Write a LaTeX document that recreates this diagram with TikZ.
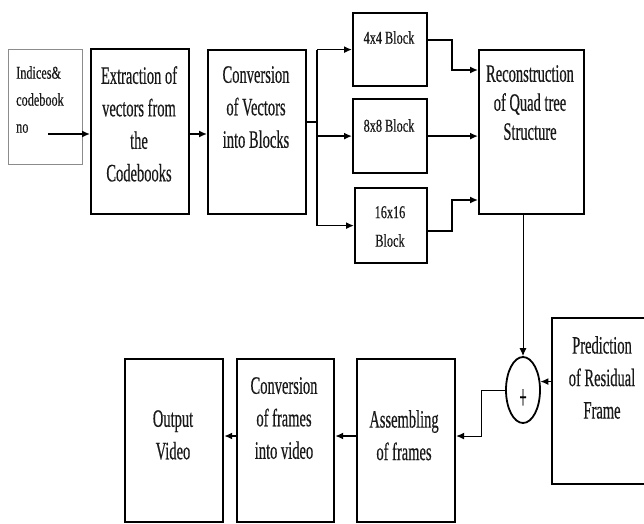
\documentclass[tikz,border=0pt]{standalone}
\usepackage{fontspec}
\setmainfont{Liberation Serif}[FakeStretch=0.58,FakeBold=0.4]
\newfontfamily\narrowserif{Liberation Serif}[FakeStretch=0.68,FakeBold=0.4]
\usetikzlibrary{arrows.meta,shapes.geometric}

\begin{document}
\begin{tikzpicture}[x=1pt,y=-1pt,
  box/.style={draw=black,line width=2.2pt,fill=white,inner sep=0pt,anchor=north west},
  inbox/.style={draw=black!45,line width=0.9pt,fill=white,inner sep=0pt,anchor=north west},
  bigtxt/.style={inner sep=0pt,anchor=north,align=center,text=black!90,
    font={\fontsize{25}{32.5}\selectfont}},
  smalltxt/.style={inner sep=0pt,anchor=north,align=center,text=black!90,
    font={\narrowserif\fontsize{18}{27.5}\selectfont}},
  arr/.style={line width=1.5pt,-{Latex[length=8pt,width=7pt]}},
  thinarr/.style={line width=1pt,-{Latex[length=8pt,width=7pt]}},
  wire/.style={line width=1.5pt},
  thinwire/.style={line width=1pt}]

\useasboundingbox (0,0) rectangle (644,523);

% blocks of the upper row
\node[inbox,minimum width=74pt,minimum height=115pt] (ind) at (8,49) {};
\node[box,minimum width=98pt,minimum height=165pt] (ext) at (90,48) {};
\node[box,minimum width=98pt,minimum height=164pt] (conv) at (207,49) {};
\node[box,minimum width=74pt,minimum height=73pt] (b4) at (352,12) {};
\node[box,minimum width=74pt,minimum height=74pt] (b8) at (352,98) {};
\node[box,minimum width=72pt,minimum height=75pt] (b16) at (354,187) {};
\node[box,minimum width=105pt,minimum height=164pt] (rec) at (478,49) {};

% blocks of the lower row
\node[box,minimum width=103pt,minimum height=166pt] (pred) at (551,317) {};
\node[box,minimum width=98pt,minimum height=163pt] (asm) at (356,358) {};
\node[box,minimum width=97pt,minimum height=163pt] (cv2) at (236,358) {};
\node[box,minimum width=98pt,minimum height=163pt] (out) at (124,358) {};
\node[ellipse,draw=black,line width=1.8pt,fill=white,minimum width=34pt,
  minimum height=66pt,inner sep=0pt] (sum) at (523,390) {};
\node[inner sep=0pt,font={\fontsize{22}{22}\selectfont}] (plus) at (523,399) {\scalebox{1}[1.6]{+}};

% labels
\node[smalltxt,anchor=north west,align=left,
  font={\narrowserif\fontsize{18}{27}\selectfont}] (ind-t) at (16,66) {Indices\&\\codebook\\no};
\node[bigtxt] (ext-t) at (139,66) {Extraction of\\vectors from\\the\\Codebooks};
\node[bigtxt] (conv-t) at (256,66) {Conversion\\of Vectors\\into Blocks};
\node[smalltxt] (b4-t) at (389,31) {4x4 Block};
\node[smalltxt] (b8-t) at (389,119) {8x8 Block};
\node[smalltxt,font={\narrowserif\fontsize{18}{28.5}\selectfont}] (b16-t) at (390,206) {16x16\\Block};
\node[bigtxt,font={\fontsize{25}{29}\selectfont}] (rec-t) at (530,65) {Reconstruction\\of Quad tree\\Structure};
\node[bigtxt] (pred-t) at (602,336) {Prediction\\of Residual\\Frame};
\node[bigtxt] (asm-t) at (404,410) {Assembling\\of frames};
\node[bigtxt] (cv2-t) at (284,377) {Conversion\\of frames\\into video};
\node[bigtxt] (out-t) at (173,410) {Output\\Video};

% connectors
\coordinate (indout) at (48,134);
\coordinate (rowA) at (0,134);
\coordinate (bus) at (317,122);
\coordinate (merge) at (452,0);
\coordinate (in4) at (0,70);
\coordinate (out4) at (0,40);
\coordinate (in16) at (0,200);
\coordinate (out16) at (0,231);
\coordinate (turn) at (481,0);
\coordinate (rowB) at (0,436);

\draw[arr] (indout) -- (indout -| ext.west);
\draw[arr] (ext.east |- rowA) -- (conv.west |- rowA);
\draw[wire] (conv.east |- bus) -- (bus);
\draw[wire] (bus |- b4.west) -- (bus |- b16.west);
\draw[arr] (bus |- b4.west) -- (b4.west);
\draw[arr] (bus |- b8.west) -- (b8.west);
\draw[arr] (bus |- b16.west) -- (b16.west);
\draw[arr] (b4.east |- out4) -| (merge |- in4) -- (rec.west |- in4);
\draw[arr] (b8.east) -- (b8.east -| rec.west);
\draw[arr] (b16.east |- out16) -| (merge |- in16) -- (rec.west |- in16);
\draw[thinarr] (rec.south -| sum.north) -- (sum.north);
\draw[arr] (pred.west |- sum.26) -- (sum.26);
\draw[thinwire] (sum.west) -- (sum.west -| turn);
\draw[thinarr] (sum.west -| turn) -- (turn |- rowB) -- (asm.east |- rowB);
\draw[arr] (asm.west |- rowB) -- (cv2.east |- rowB);
\draw[arr] (cv2.west |- rowB) -- (out.east |- rowB);
\end{tikzpicture}
\end{document}
